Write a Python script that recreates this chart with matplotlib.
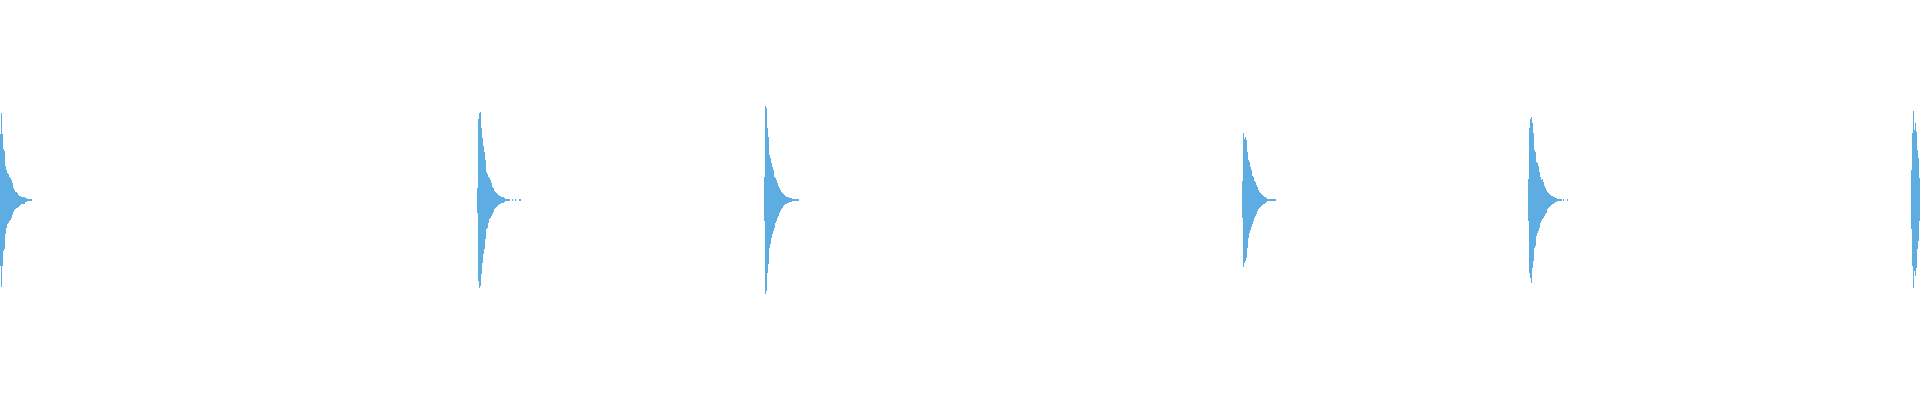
import numpy as np
import matplotlib
matplotlib.use('Agg')
import matplotlib.pyplot as plt

# waveform envelope, one value per time step (amplitude, full scale = 1)
burst_starts = [0, 477, 764, 1242, 1528, 1911]

burst1_top = [0.328, 0.433, 0.328, 0.253, 0.243, 0.168, 0.148, 0.133, 0.128, 0.113, 0.108, 0.098, 0.083, 0.058,
              0.048, 0.038, 0.038, 0.033, 0.023, 0.018, 0.018, 0.013, 0.013, 0.013, 0.013, 0.008, 0.008,
              0.004, 0.004, 0.004, 0.004, 0.004]
burst1_bot = [0.328, 0.433, 0.328, 0.253, 0.243, 0.168, 0.138, 0.118, 0.113, 0.103, 0.098, 0.088, 0.073, 0.058,
              0.048, 0.043, 0.038, 0.038, 0.033, 0.028, 0.023, 0.018, 0.018, 0.018, 0.018, 0.008, 0.008,
              0.004, 0.004, 0.004, 0.004, 0.004]

burst2_top = [0.058, 0.403, 0.433, 0.438, 0.358, 0.308, 0.268, 0.238, 0.198, 0.138,
              0.128, 0.113, 0.108, 0.098, 0.083, 0.063, 0.058, 0.043, 0.038, 0.033, 0.028, 0.023, 0.018, 0.018,
              0.013, 0.013, 0.013, 0.008, 0.004, 0.004, 0.004, 0.004, 0.004,
              0, 0, 0.004, 0, 0, 0.004, 0, 0, 0, 0.004, 0.004]
burst2_bot = [0.063, 0.403, 0.438, 0.428, 0.368, 0.313, 0.268, 0.243, 0.193, 0.143,
              0.138, 0.113, 0.093, 0.088, 0.078, 0.068, 0.058, 0.043, 0.038, 0.033, 0.028, 0.023, 0.018, 0.018,
              0.013, 0.013, 0.013, 0.008, 0.004, 0.004, 0.004, 0.004, 0.004,
              0, 0, 0.004, 0, 0, 0.004, 0, 0, 0, 0.004, 0.004]

burst3_top = [0.113, 0.468, 0.458, 0.358, 0.313, 0.223, 0.208, 0.183, 0.163, 0.148,
              0.113, 0.108, 0.098, 0.083, 0.068, 0.058, 0.048, 0.038, 0.033, 0.028, 0.023, 0.018,
              0.013, 0.013, 0.013, 0.008, 0.008, 0.008,
              0.004, 0.004, 0.004, 0.004, 0.004, 0.004, 0.004]
burst3_bot = [0.103, 0.468, 0.453, 0.363, 0.318, 0.238, 0.218, 0.188, 0.168, 0.153,
              0.138, 0.113, 0.103, 0.088, 0.078, 0.063, 0.053, 0.043, 0.038, 0.028, 0.023,
              0.018, 0.018, 0.013, 0.013, 0.008, 0.008, 0.008,
              0.004, 0.004, 0.004, 0.004, 0.004, 0.004, 0.004]

burst4_top = [0.093, 0.333, 0.303, 0.313, 0.298, 0.238, 0.198, 0.188, 0.163, 0.148,
              0.118, 0.113, 0.093, 0.088, 0.073, 0.063, 0.048, 0.038, 0.033, 0.028, 0.023, 0.018,
              0.013, 0.013, 0.008,
              0.004, 0.004, 0.004, 0.004, 0.004, 0.004, 0.004, 0.004, 0.004]
burst4_bot = [0.088, 0.333, 0.313, 0.303, 0.288, 0.238, 0.188, 0.163, 0.148, 0.133,
              0.118, 0.103, 0.088, 0.078, 0.068, 0.053, 0.043, 0.038, 0.033, 0.028, 0.023,
              0.018, 0.018, 0.013, 0.008,
              0.004, 0.004, 0.004, 0.004, 0.004, 0.004, 0.004, 0.004, 0.004]

burst5_top = [0.103, 0.358, 0.403, 0.413, 0.383, 0.333, 0.248, 0.238, 0.188, 0.183,
              0.168, 0.138, 0.113, 0.098, 0.103, 0.088, 0.068, 0.058, 0.048, 0.038,
              0.033, 0.028, 0.023, 0.018, 0.018, 0.013, 0.013, 0.008, 0.008,
              0.004, 0.004, 0.004, 0.004, 0.004, 0, 0.004, 0, 0, 0, 0.004]
burst5_bot = [0.103, 0.363, 0.388, 0.413, 0.338, 0.303, 0.238, 0.228, 0.178, 0.163,
              0.153, 0.138, 0.113, 0.103, 0.093, 0.088, 0.078, 0.068, 0.063, 0.043,
              0.038, 0.033, 0.028, 0.023, 0.018, 0.018, 0.013, 0.008, 0.008,
              0.004, 0.004, 0.004, 0.004, 0.004, 0, 0.004, 0, 0, 0, 0.004]

burst6_top = [0.148, 0.333, 0.443, 0.348, 0.383, 0.338, 0.248, 0.208, 0.108]
burst6_bot = [0.143, 0.328, 0.438, 0.353, 0.378, 0.338, 0.243, 0.203, 0.103]

tops = [burst1_top, burst2_top, burst3_top, burst4_top, burst5_top, burst6_top]
bots = [burst1_bot, burst2_bot, burst3_bot, burst4_bot, burst5_bot, burst6_bot]

wave_color = '#5dade2'

fig = plt.figure(figsize=(19.2, 4), dpi=100)
ax = fig.add_axes([0, 0, 1, 1])

for start, top, bot in zip(burst_starts, tops, bots):
    top = np.array(top)
    bot = np.array(bot)
    t = start + np.arange(len(top))
    ax.bar(t, top + bot, bottom=-bot, width=1, align='edge', color=wave_color, linewidth=0)

ax.set_xlim(0, 1920)
ax.set_ylim(-1, 1)
ax.axis('off')

fig.savefig('out.png', dpi=100, facecolor='white')
